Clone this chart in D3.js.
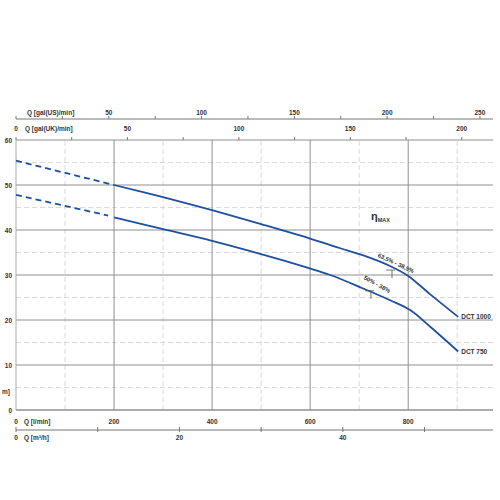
<!DOCTYPE html>
<html><head><meta charset="utf-8">
<script src="https://cdn.jsdelivr.net/npm/d3@7"></script>
<style>body{margin:0;background:#fff}svg text{font-family:"Liberation Sans",Arial,sans-serif;font-weight:bold;fill:#333}</style>
</head><body><svg id="c" width="500" height="500"></svg>
<script>
// ---- data ----
const flowTicks = [0,200,400,600,800];
const flowMinor = [100,300,500,700,900];
const headTicks = [0,10,20,30,40,50,60];
const headMinor = [5,15,25,35,45,55];
const ukTicks = [0,50,100,150,200];
const ukMinor = [25,75,125,175];
const usTicks = [50,100,150,200,250];
const usMinor = [0,25,75,125,175,225];
const m3hTicks = [0,20,40];
const m3hMinor = [10,30,50];
const dct1000DashQ = [0,200];
const dct1000DashH = [55.4,50];
const dct1000Q = [200,300,400,500,600,660,710,765,800,845,902];
const dct1000H = [50,47.3,44.4,41.3,38.1,36.0,34.3,31.9,29.8,25.7,20.7];
const dct750DashQ = [0,188];
const dct750DashH = [47.8,43.2];
const dct750Q = [200,300,400,543,641,708,763,804,845,902];
const dct750H = [42.8,40.2,37.6,33.3,30.0,27.0,24.4,22.2,18.5,13.0];
const seriesNames = ["DCT 1000","DCT 750"];
const effQ = [767,724];
const effH = [31.1,26.5];
const effLabels = ["63,5% - 38,5%","50% - 38%"];
const UKGAL = 4.54609, USGAL = 3.78541, M3H = 1000/60;

// ---- scales ----
const svg = d3.select("#c");
const x = d3.scaleLinear().domain([0,973]).range([16,493]);
const y = d3.scaleLinear().domain([0,60]).range([410,140]);
const blue = "#1e4fa0";

// minor grid
svg.append("g").selectAll("line").data(headMinor).join("line")
  .attr("x1",x(0)).attr("x2",x(973)).attr("y1",d=>y(d)).attr("y2",d=>y(d))
  .attr("stroke","#d0d0d0").attr("stroke-width",0.8).attr("stroke-dasharray","5,3");
svg.append("g").selectAll("line").data(flowMinor).join("line")
  .attr("x1",d=>x(d)).attr("x2",d=>x(d)).attr("y1",y(0)).attr("y2",y(60))
  .attr("stroke","#d0d0d0").attr("stroke-width",0.8).attr("stroke-dasharray","5,3");
// major grid
svg.append("g").selectAll("line").data(headTicks).join("line")
  .attr("x1",x(0)).attr("x2",x(973)).attr("y1",d=>y(d)).attr("y2",d=>y(d))
  .attr("stroke","#909090").attr("stroke-width",d=>d===0?1.4:1);
svg.append("g").selectAll("line").data(flowTicks).join("line")
  .attr("x1",d=>x(d)).attr("x2",d=>x(d)).attr("y1",y(0)).attr("y2",y(60))
  .attr("stroke",d=>d===0?"#aaa":"#909090").attr("stroke-width",1);

// y labels
svg.append("g").selectAll("text").data(headTicks).join("text")
  .attr("x",12).attr("y",d=>y(d)+2.5).attr("text-anchor","end").attr("font-size",6.5).text(d=>d);
svg.append("text").attr("x",2).attr("y",394).attr("font-size",6.5).text("m]");

// bottom l/min labels
svg.append("g").selectAll("text").data(flowTicks).join("text")
  .attr("x",d=>x(d)).attr("y",424).attr("text-anchor","middle").attr("font-size",6.5).text(d=>d);
svg.append("text").attr("x",24).attr("y",424).attr("font-size",6.5).text("Q [l/min]");

// m3/h axis
const yM = 430;
svg.append("line").attr("x1",x(0)).attr("x2",x(973)).attr("y1",yM).attr("y2",yM).attr("stroke","#777").attr("stroke-width",1.2);
svg.append("g").selectAll("line").data(m3hTicks.concat(m3hMinor)).join("line")
  .attr("x1",d=>x(d*M3H)).attr("x2",d=>x(d*M3H)).attr("y1",yM-3).attr("y2",yM+2).attr("stroke","#777");
svg.append("g").selectAll("text").data(m3hTicks).join("text")
  .attr("x",d=>x(d*M3H)).attr("y",yM+10).attr("text-anchor","middle").attr("font-size",6.5).text(d=>d);
svg.append("text").attr("x",24).attr("y",yM+10).attr("font-size",6.5).text("Q [m³/h]");

// UK axis (top of plot)
svg.append("g").selectAll("line").data(ukTicks.concat(ukMinor)).join("line")
  .attr("x1",d=>x(d*UKGAL)).attr("x2",d=>x(d*UKGAL)).attr("y1",y(60)-3).attr("y2",y(60)).attr("stroke","#777");
svg.append("g").selectAll("text").data(ukTicks).join("text")
  .attr("x",d=>x(d*UKGAL)).attr("y",131).attr("text-anchor","middle").attr("font-size",6.5).text(d=>d);
svg.append("text").attr("x",25).attr("y",131).attr("font-size",6.5).text("Q [gal(UK)/min]");

// US axis
const yU = 119;
svg.append("line").attr("x1",x(0)).attr("x2",x(973)).attr("y1",yU).attr("y2",yU).attr("stroke","#777").attr("stroke-width",1);
svg.append("g").selectAll("line").data(usTicks.concat(usMinor)).join("line")
  .attr("x1",d=>x(d*USGAL)).attr("x2",d=>x(d*USGAL)).attr("y1",yU-3).attr("y2",yU).attr("stroke","#777");
svg.append("g").selectAll("text").data(usTicks).join("text")
  .attr("x",d=>x(d*USGAL)).attr("y",115).attr("text-anchor","middle").attr("font-size",6.5).text(d=>d);
svg.append("text").attr("x",27).attr("y",115).attr("font-size",6.5).text("Q [gal(US)/min]");

// curves
const line = d3.line().x(d=>x(d[0])).y(d=>y(d[1])).curve(d3.curveCatmullRom.alpha(0.5));
const zip = (a,b)=>a.map((v,i)=>[v,b[i]]);
[[dct1000DashQ,dct1000DashH],[dct750DashQ,dct750DashH]].forEach(([q,h])=>{
  svg.append("path").attr("d",line(zip(q,h))).attr("fill","none").attr("stroke",blue)
    .attr("stroke-width",1.8).attr("stroke-dasharray","6,4");
});
const solids = [[dct1000Q,dct1000H],[dct750Q,dct750H]];
solids.forEach(([q,h],i)=>{
  svg.append("path").attr("d",line(zip(q,h))).attr("fill","none").attr("stroke",blue).attr("stroke-width",1.8);
  svg.append("text").attr("x",x(q[q.length-1])+3).attr("y",y(h[h.length-1])+2.5)
    .attr("font-size",6.5).text(seriesNames[i]);
});

// efficiency markers
effQ.forEach((q,i)=>{
  const cx = x(q), cy = y(effH[i]);
  svg.append("line").attr("x1",cx-6).attr("x2",cx+3).attr("y1",cy).attr("y2",cy).attr("stroke","#555").attr("stroke-width",0.8);
  svg.append("line").attr("x1",cx).attr("x2",cx).attr("y1",cy).attr("y2",cy+8).attr("stroke","#555").attr("stroke-width",0.8);
});
svg.append("text").attr("transform","translate(395,265) rotate(25)").attr("text-anchor","middle")
  .attr("font-size",6).text(effLabels[0]);
svg.append("text").attr("transform","translate(376,286) rotate(29)").attr("text-anchor","middle")
  .attr("font-size",6).text(effLabels[1]);

// eta max
const eta = svg.append("text").attr("x",371).attr("y",220).attr("font-size",11).attr("font-weight","normal");
eta.append("tspan").text("η");
eta.append("tspan").attr("font-size",5.5).attr("font-weight","bold").attr("dy",1.5).text("MAX");
</script></body></html>
